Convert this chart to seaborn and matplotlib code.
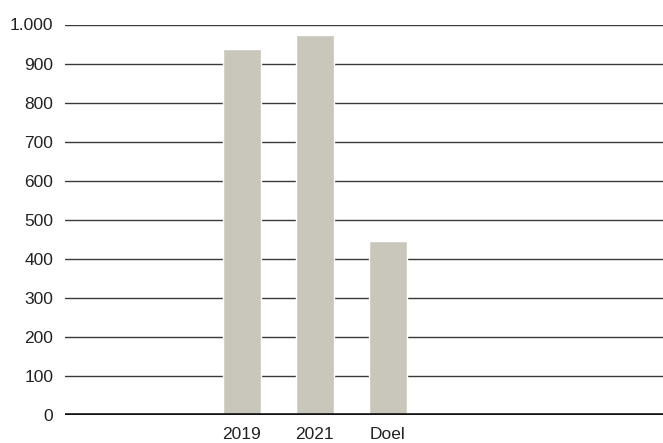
import pandas as pd
import matplotlib
matplotlib.use("Agg")
import matplotlib.pyplot as plt
import seaborn as sns
from matplotlib.ticker import FuncFormatter

# Data
categories = ["2019", "2021", "Doel"]
values = [938, 972, 446]
y_ticks = [0, 100, 200, 300, 400, 500, 600, 700, 800, 900, 1000]

df = pd.DataFrame({"jaar": categories, "waarde": values})

sns.set_style("white")
plt.rcParams["font.family"] = ["Liberation Sans", "DejaVu Sans"]

fig = plt.figure(figsize=(6.63, 4.43), dpi=100)
ax = fig.add_axes([65 / 663, 28 / 443, 1 - 65 / 663, 390.5 / 443])

sns.barplot(data=df, x="jaar", y="waarde", order=categories,
            color="#c9c7bb", saturation=1, width=0.52, ax=ax, zorder=2)

# Horizontal grid lines behind bars, thick base line at zero
ax.set_yticks(y_ticks)
ax.set_ylim(0, 1000)
for t in y_ticks[1:]:
    ax.axhline(t, color="#3a3a3a", lw=1.0, zorder=1)
ax.axhline(0, color="#111111", lw=2.6, zorder=3)

ax.set_xlim(-2.42, 5.77)
ax.yaxis.set_major_formatter(FuncFormatter(lambda v, p: f"{int(v):,}".replace(",", ".")))
ax.tick_params(axis="y", length=0, pad=8.5, labelsize=12.5, colors="#222222")
ax.tick_params(axis="x", length=0, pad=8.5, labelsize=12.5, colors="#222222")
ax.set_xlabel("")
ax.set_ylabel("")
sns.despine(ax=ax, left=True, bottom=True)

fig.savefig("out.png", dpi=100)
